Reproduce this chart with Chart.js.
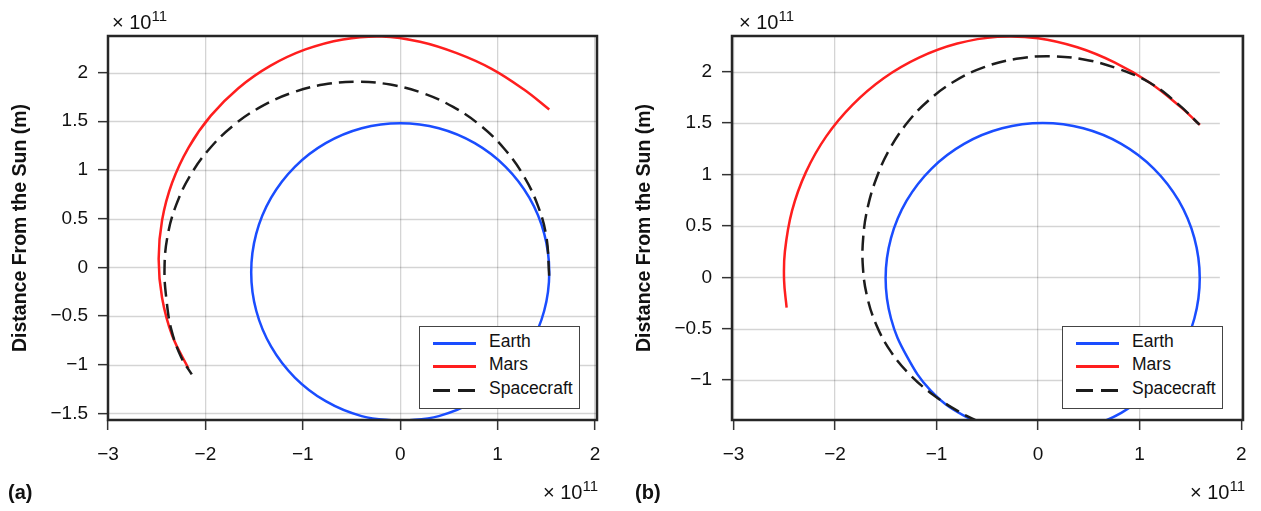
<!DOCTYPE html>
<html>
<head>
<meta charset="utf-8">
<script src="https://cdn.jsdelivr.net/npm/chart.js@4.4.1/dist/chart.umd.min.js"></script>
<style>
  body { margin: 0; background: #fff; font-family: "Liberation Sans", Arial, sans-serif; color: #111; }
  #page { position: relative; width: 1261px; height: 511px; overflow: hidden; }
  .panel { position: absolute; top: 0; }
  .txt { position: absolute; font-size: 20px; line-height: 1; white-space: nowrap; }
  .txt sup { font-size: 15px; vertical-align: 0; position: relative; top: -8px; }
  .bold { font-weight: bold; }
  .legend { position: absolute; width: 161px; height: 83px; border: 1.5px solid #444; background: #fff; box-sizing: border-box; }
  .legend .row { position: absolute; left: 0; height: 20px; width: 100%; }
  .legend .sample { position: absolute; left: 13px; top: 9px; width: 43px; height: 2.5px; }
  .legend .label { position: absolute; left: 69px; top: 0px; font-size: 17.5px; line-height: 1; }
</style>
</head>
<body>
<div id="page">
  <div class="panel" style="left:0;width:620px;height:511px"><canvas id="chartA" width="620" height="511"></canvas></div>
  <div class="panel" style="left:620px;width:641px;height:511px"><canvas id="chartB" width="641" height="511"></canvas></div>

  <div class="txt" style="left:112px;top:12px">&times; 10<sup>11</sup></div>
  <div class="txt" style="left:739px;top:12px">&times; 10<sup>11</sup></div>
  <div class="txt" style="left:543px;top:482px">&times; 10<sup>11</sup></div>
  <div class="txt" style="left:1190px;top:482px">&times; 10<sup>11</sup></div>
  <div class="txt bold" style="left:8px;top:482px">(a)</div>
  <div class="txt bold" style="left:635px;top:482px">(b)</div>

  <div class="legend" id="legendA" style="left:419px;top:326px"></div>
  <div class="legend" id="legendB" style="left:1062px;top:326px"></div>
</div>
<script>
// axis ticks
const xTicks = [-3, -2, -1, 0, 1, 2];
const yTicksA = [-1.5, -1, -0.5, 0, 0.5, 1, 1.5, 2];
const yTicksB = [-1, -0.5, 0, 0.5, 1, 1.5, 2];
const seriesNames = ["Earth", "Mars", "Spacecraft"];
const seriesColors = ["#1a4dff", "#ff1e1e", "#1c1c1c"];

// panel (a), units of 1e11 m
const earthA = [
  [0, -1.58], [0.396, -1.528], [0.765, -1.375], [1.082, -1.132], [1.325, -0.815], [1.478, -0.446],
  [1.53, -0.05], [1.478, 0.346], [1.325, 0.715], [1.082, 1.032], [0.765, 1.275], [0.396, 1.428],
  [0, 1.48], [-0.396, 1.428], [-0.765, 1.275], [-1.082, 1.032], [-1.325, 0.715], [-1.478, 0.346],
  [-1.53, -0.05], [-1.478, -0.446], [-1.325, -0.815], [-1.082, -1.132], [-0.765, -1.375], [-0.396, -1.528], [0, -1.58]
];
const marsA = [
  [1.53, 1.62], [1.27, 1.825], [0.938, 2.038], [0.58, 2.199], [0.203, 2.316], [-0.19, 2.37],
  [-0.588, 2.34], [-0.973, 2.237], [-1.335, 2.068], [-1.662, 1.839], [-1.944, 1.557], [-2.173, 1.23],
  [-2.342, 0.868], [-2.445, 0.483], [-2.48, 0.085], [-2.445, -0.313], [-2.342, -0.698], [-2.175, -1.038]
];
const craftA = [
  [1.529, -0.087], [1.5, 0.314], [1.411, 0.638], [1.265, 0.943], [1.068, 1.217], [0.825, 1.455],
  [0.543, 1.647], [0.23, 1.789], [-0.102, 1.876], [-0.445, 1.905], [-0.788, 1.876], [-1.12, 1.789],
  [-1.433, 1.647], [-1.715, 1.455], [-1.958, 1.217], [-2.155, 0.943], [-2.301, 0.638], [-2.39, 0.314],
  [-2.42, -0.02], [-2.4, -0.33], [-2.35, -0.64], [-2.25, -0.92], [-2.14, -1.1]
];

// panel (b)
const earthB = [
  [0.045, -1.53], [0.445, -1.469], [0.819, -1.318], [1.139, -1.078], [1.385, -0.765], [1.539, -0.401],
  [1.592, -0.01], [1.539, 0.381], [1.385, 0.745], [1.139, 1.058], [0.819, 1.298], [0.445, 1.449],
  [0.045, 1.5], [-0.355, 1.449], [-0.729, 1.298], [-1.049, 1.058], [-1.295, 0.745], [-1.449, 0.381],
  [-1.502, -0.01], [-1.449, -0.401], [-1.295, -0.765], [-1.06, -1.1], [-0.74, -1.34], [-0.355, -1.48], [0.045, -1.53]
];
const marsB = [
  [1.594, 1.482], [1.405, 1.655], [1.093, 1.897], [0.752, 2.091], [0.386, 2.238], [-0.001, 2.326],
  [-0.4, 2.339], [-0.796, 2.274], [-1.173, 2.137], [-1.521, 1.937], [-1.828, 1.678], [-2.087, 1.371],
  [-2.287, 1.023], [-2.424, 0.646], [-2.494, 0.251], [-2.502, -0.03], [-2.477, -0.294]
];
const craftB = [
  [-0.588, -1.405], [-0.777, -1.309], [-1.028, -1.147], [-1.255, -0.955], [-1.447, -0.728], [-1.591, -0.468],
  [-1.684, -0.188], [-1.726, 0.103], [-1.722, 0.396], [-1.677, 0.686], [-1.591, 0.968], [-1.466, 1.241],
  [-1.295, 1.495], [-1.08, 1.72], [-0.823, 1.907], [-0.531, 2.044], [-0.214, 2.125], [0.116, 2.15],
  [0.451, 2.119], [0.78, 2.031], [1.1, 1.892], [1.382, 1.682], [1.589, 1.485]
];

const FONT = "'Liberation Sans', Arial, sans-serif";

function toPts(arr) {
  return arr.map(p => ({ x: p[0], y: p[1] }));
}

function fmt(v) {
  return v < 0 ? "\u2212" + Math.abs(v) : String(v);
}

// horizontal grid lines (they stop short of the right edge in panel b)
const hGridPlugin = {
  id: "hgrid",
  beforeDatasetsDraw(chart, args, o) {
    const { ctx, chartArea: a, scales } = chart;
    const xEnd = scales.x.getPixelForValue(o.end);
    ctx.save();
    ctx.strokeStyle = "rgba(0,0,0,0.17)";
    ctx.lineWidth = 1.3;
    o.ticks.forEach(v => {
      const y = Math.round(scales.y.getPixelForValue(v)) + 0.5;
      ctx.beginPath();
      ctx.moveTo(a.left, y);
      ctx.lineTo(Math.min(xEnd, a.right), y);
      ctx.stroke();
    });
    ctx.restore();
  }
};

// box round the plot area
const framePlugin = {
  id: "frame",
  afterDatasetsDraw(chart) {
    const { ctx, chartArea: a } = chart;
    ctx.save();
    ctx.strokeStyle = "#262626";
    ctx.lineWidth = 2.5;
    ctx.strokeRect(a.left, a.top, a.right - a.left, a.bottom - a.top);
    ctx.restore();
  }
};

function makeChart(id, opts) {
  const lines = [opts.earth, opts.mars, opts.craft];
  const datasets = lines.map((d, i) => ({
    label: seriesNames[i],
    data: toPts(d),
    borderColor: seriesColors[i],
    backgroundColor: seriesColors[i],
    borderWidth: 2.5,
    borderDash: i === 2 ? [15, 7] : [],
    pointRadius: 0,
    tension: 0.4,
    fill: false,
    order: 2 - i
  }));

  const grid = {
    color: "rgba(0,0,0,0.17)",
    lineWidth: 1.3,
    drawTicks: true,
    tickLength: 10,
    tickColor: "#333",
    tickWidth: 1.5
  };

  return new Chart(document.getElementById(id), {
    type: "line",
    data: { datasets },
    options: {
      responsive: false,
      animation: false,
      devicePixelRatio: 1,
      layout: { padding: { top: 36, right: opts.padRight, bottom: 0, left: 0 } },
      scales: {
        x: {
          type: "linear",
          min: opts.xMin,
          max: opts.xMax,
          afterBuildTicks: s => { s.ticks = xTicks.map(v => ({ value: v })); },
          afterFit: s => { s.height = 91; },
          border: { display: false },
          grid: grid,
          ticks: { callback: fmt, padding: 13, color: "#111", font: { family: FONT, size: 19 }, maxRotation: 0, autoSkip: false }
        },
        y: {
          type: "linear",
          min: opts.yMin,
          max: opts.yMax,
          afterBuildTicks: s => { s.ticks = opts.yTicks.map(v => ({ value: v })); },
          afterFit: s => { s.width = opts.yWidth; },
          border: { display: false },
          grid: Object.assign({}, grid, { drawOnChartArea: false }),
          ticks: { callback: fmt, padding: 10, color: "#111", font: { family: FONT, size: 19 }, autoSkip: false },
          title: {
            display: true,
            text: "Distance From the Sun (m)",
            color: "#111",
            font: { family: FONT, size: 19.5, weight: "bold" },
            padding: { top: opts.titlePad, bottom: 0 }
          }
        }
      },
      plugins: {
        legend: { display: false },
        tooltip: { enabled: false },
        hgrid: { ticks: opts.yTicks, end: opts.gridEnd }
      }
    },
    plugins: [hGridPlugin, framePlugin]
  });
}

makeChart("chartA", {
  earth: earthA, mars: marsA, craft: craftA,
  xMin: -3.0, xMax: 2.02, yMin: -1.568, yMax: 2.375,
  yTicks: yTicksA, yWidth: 108, padRight: 23, titlePad: 9, gridEnd: 2.02
});

makeChart("chartB", {
  earth: earthB, mars: marsB, craft: craftB,
  xMin: -3.015, xMax: 2.018, yMin: -1.388, yMax: 2.347,
  yTicks: yTicksB, yWidth: 112, padRight: 18, titlePad: 13, gridEnd: 1.79
});

// legend boxes inside the plots
function buildLegend(id) {
  const box = document.getElementById(id);
  const rowTops = [6, 29, 53];
  seriesNames.forEach((name, i) => {
    const row = document.createElement("div");
    row.className = "row";
    row.style.top = rowTops[i] + "px";
    const sample = document.createElement("div");
    sample.className = "sample";
    if (i === 2) {
      sample.style.background = "repeating-linear-gradient(to right, " + seriesColors[i] + " 0 17px, transparent 17px 25px)";
    } else {
      sample.style.background = seriesColors[i];
    }
    const label = document.createElement("div");
    label.className = "label";
    label.textContent = name;
    row.appendChild(sample);
    row.appendChild(label);
    box.appendChild(row);
  });
}
buildLegend("legendA");
buildLegend("legendB");
</script>
</body>
</html>
